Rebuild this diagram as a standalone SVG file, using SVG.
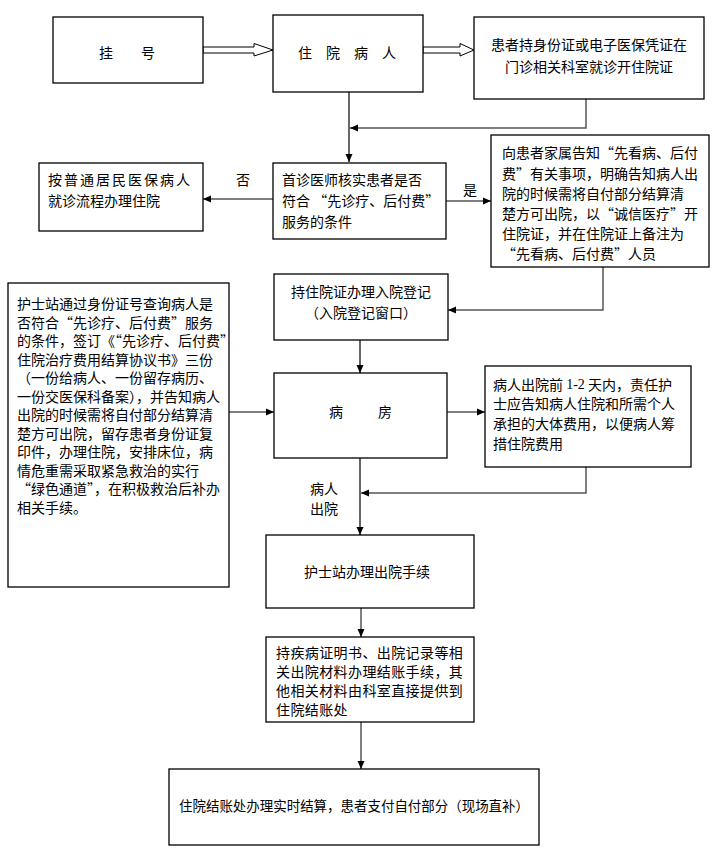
<svg xmlns="http://www.w3.org/2000/svg" width="715" height="857" viewBox="0 0 715 857">
<defs>
<marker id="ah" markerUnits="userSpaceOnUse" markerWidth="8" markerHeight="8" refX="8" refY="4" orient="auto"><path d="M0,0.5 L8,4 L0,7.5 z" fill="#000"/></marker>
<style>
.box{fill:#fff;stroke:#000;stroke-width:1.3}
.t{font-family:"Noto Sans CJK SC","Noto Sans",sans-serif;font-size:14px;fill:#000;dominant-baseline:central}
.m{text-anchor:middle}
.c{fill:none;stroke:#000;stroke-width:1.2}
.g{stroke:#555;stroke-width:1.5}
.ha{fill:#fff;stroke:#000;stroke-width:1}
.num{font-family:"Liberation Serif",serif}
</style>
</defs>
<rect width="715" height="857" fill="#fff"/>
<g id="connectors">
<polygon class="ha" points="203,47 254,47 254,43.5 273,50 254,56 254,53 203,53"/>
<polygon class="ha" points="423,47 460,47 460,43.5 474,50 460,56 460,53 423,53"/>
<path class="c" d="M349,92 V162" marker-end="url(#ah)"/>
<path class="c g" d="M586,99 V128 H350" marker-end="url(#ah)"/>
<path class="c" d="M273,199 H203" marker-end="url(#ah)"/>
<path class="c g" d="M446,201 H491" marker-end="url(#ah)"/>
<path class="c g" d="M603,267 V310 H448" marker-end="url(#ah)"/>
<path class="c" d="M360,340 V373" marker-end="url(#ah)"/>
<path class="c g" d="M229,412 H274" marker-end="url(#ah)"/>
<path class="c" d="M447,412 H485" marker-end="url(#ah)"/>
<path class="c" d="M360,458 V535" marker-end="url(#ah)"/>
<path class="c g" d="M586,467 V493 H361" marker-end="url(#ah)"/>
<path class="c g" d="M361,608 V637" marker-end="url(#ah)"/>
<path class="c g" d="M361,722 V769" marker-end="url(#ah)"/>
<text class="t m" x="243" y="179">否</text>
<text class="t m" x="470" y="189">是</text>
<text class="t m" x="324" y="488">病人</text>
<text class="t m" x="324" y="508">出院</text>
</g>
<g id="n-guahao">
<rect class="box" x="53" y="17" width="150" height="66"/>
<text class="t m" x="127" y="52">挂　　号</text>
</g>
<g id="n-zhuyuan">
<rect class="box" x="273" y="15" width="150" height="77"/>
<text class="t m" x="347" y="52">住　院　病　人</text>
</g>
<g id="n-kaizheng">
<rect class="box" x="474" y="17" width="230" height="82"/>
<text class="t m" x="589" y="44">患者持身份证或电子医保凭证在</text>
<text class="t m" x="589" y="66">门诊相关科室就诊开住院证</text>
</g>
<g id="n-putong">
<rect class="box" x="39" y="163" width="164" height="68"/>
<text class="t" x="48" y="179" letter-spacing="2">按普通居民医保病人</text>
<text class="t" x="48" y="200">就诊流程办理住院</text>
</g>
<g id="n-shouzhen">
<rect class="box" x="273" y="163" width="173" height="76"/>
<text class="t" x="282" y="179">首诊医师核实患者是否</text>
<text class="t" x="282" y="200">符合 “先诊疗、后付费”</text>
<text class="t" x="282" y="221">服务的条件</text>
</g>
<g id="n-gaozhi">
<rect class="box" x="491" y="135" width="218" height="132"/>
<text class="t" x="502" y="152">向患者家属告知“先看病、后付</text>
<text class="t" x="502" y="173">费”有关事项，明确告知病人出</text>
<text class="t" x="502" y="193">院的时候需将自付部分结算清</text>
<text class="t" x="502" y="213">楚方可出院，以“诚信医疗”开</text>
<text class="t" x="502" y="233">住院证，并在住院证上备注为</text>
<text class="t" x="502" y="253">“先看病、后付费”人员</text>
</g>
<g id="n-dengji">
<rect class="box" x="274" y="274" width="174" height="66"/>
<text class="t m" x="361" y="291">持住院证办理入院登记</text>
<text class="t m" x="361" y="312">（入院登记窗口）</text>
</g>
<g id="n-hushizhan">
<rect class="box" x="8" y="283" width="221" height="304"/>
<text class="t" x="17" y="303">护士站通过身份证号查询病人是</text>
<text class="t" x="17" y="321.5">否符合“先诊疗、后付费”服务</text>
<text class="t" x="17" y="340">的条件，签订《“先诊疗、后付费”</text>
<text class="t" x="17" y="358.5">住院治疗费用结算协议书》三份</text>
<text class="t" x="17" y="377">（一份给病人、一份留存病历、</text>
<text class="t" x="17" y="395.5">一份交医保科备案），并告知病人</text>
<text class="t" x="17" y="414">出院的时候需将自付部分结算清</text>
<text class="t" x="17" y="432.5">楚方可出院，留存患者身份证复</text>
<text class="t" x="17" y="451">印件，办理住院，安排床位，病</text>
<text class="t" x="17" y="469.5">情危重需采取紧急救治的实行</text>
<text class="t" x="17" y="488">“绿色通道”，在积极救治后补办</text>
<text class="t" x="17" y="506.5">相关手续。</text>
</g>
<g id="n-bingfang">
<rect class="box" x="274" y="373" width="173" height="85"/>
<text class="t m" x="336" y="411">病</text>
<text class="t m" x="385" y="411">房</text>
</g>
<g id="n-chuyuanqian">
<rect class="box" x="485" y="366" width="206" height="101"/>
<text class="t" x="493" y="384">病人出院前 <tspan class="num">1-2</tspan> 天内，责任护</text>
<text class="t" x="493" y="403">士应告知病人住院和所需个人</text>
<text class="t" x="493" y="423">承担的大体费用，以便病人筹</text>
<text class="t" x="493" y="443">措住院费用</text>
</g>
<g id="n-chuyuanshouxu">
<rect class="box" x="266" y="535" width="208" height="73"/>
<text class="t m" x="367" y="571">护士站办理出院手续</text>
</g>
<g id="n-jiezhang">
<rect class="box" x="266" y="637" width="208" height="85"/>
<text class="t" x="276" y="652" letter-spacing="0.4">持疾病证明书、出院记录等相</text>
<text class="t" x="276" y="671" letter-spacing="0.4">关出院材料办理结账手续，其</text>
<text class="t" x="276" y="690" letter-spacing="0.4">他相关材料由科室直接提供到</text>
<text class="t" x="276" y="709" letter-spacing="0.4">住院结账处</text>
</g>
<g id="n-final">
<rect class="box" x="169" y="769" width="370" height="76"/>
<text class="t m" x="354" y="805" textLength="350" lengthAdjust="spacingAndGlyphs">住院结账处办理实时结算，患者支付自付部分（现场直补）</text>
</g>
</svg>
